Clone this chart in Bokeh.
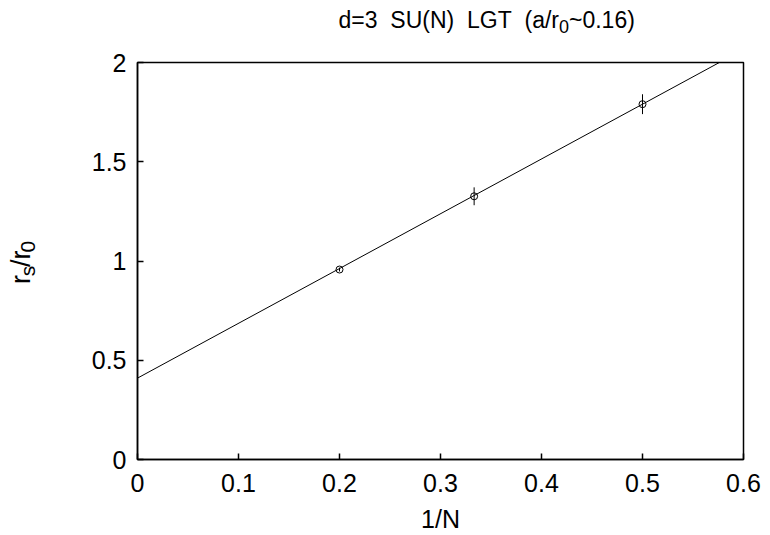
import math
from bokeh.plotting import figure
from bokeh.models import Slope, FixedTicker, Range1d, ColumnDataSource
from bokeh.layouts import column, row
from bokeh.core.properties import value
from bokeh.embed import file_html
from bokeh.resources import INLINE

# ---- data ----
inv_n = [0.2, 0.3333, 0.5]
rs_over_r0 = [0.957, 1.326, 1.79]
rs_err = [0.01, 0.045, 0.05]
fit_intercept = 0.41
fit_slope = 2.76
x_ticks = [0, 0.1, 0.2, 0.3, 0.4, 0.5, 0.6]
x_tick_labels = ["0", "0.1", "0.2", "0.3", "0.4", "0.5", "0.6"]
y_ticks = [0, 0.5, 1, 1.5, 2]
y_tick_labels = ["0", "0.5", "1", "1.5", "2"]
title_parts = ["d=3  SU(N)  LGT  (a/r", "0", "~0.16)"]
xlabel = "1/N"
ylabel_parts = ["r", "s", "/r", "0"]

FONT = "Liberation Sans"
FS = 25
TOTAL_W = 762
TITLE_H = 48
YLAB_W = 60
MAIN_W = TOTAL_W - YLAB_W
MAIN_H = 455
XLAB_H = 30


def blank(w, h):
    f = figure(width=w, height=h, output_backend="svg", toolbar_location=None,
               x_range=Range1d(0, w), y_range=Range1d(0, h),
               min_border=0, min_border_left=0, min_border_right=0,
               min_border_top=0, min_border_bottom=0)
    f.title = None
    f.axis.visible = False
    f.grid.visible = False
    f.outline_line_color = None
    f.background_fill_color = "white"
    f.border_fill_color = "white"
    return f


# ---- main plot ----
p = figure(width=MAIN_W, height=MAIN_H, output_backend="svg", toolbar_location=None,
           x_range=Range1d(0, 0.6), y_range=Range1d(0, 2),
           min_border_left=77, min_border_right=19,
           min_border_top=14, min_border_bottom=MAIN_H - 14 - 397)
p.title = None
p.xgrid.visible = False
p.ygrid.visible = False
p.outline_line_color = "black"
p.outline_line_width = 1.5
p.background_fill_color = "white"
p.border_fill_color = "white"

for ax, ticks, labels, so in ((p.xaxis[0], x_ticks, x_tick_labels, 14),
                              (p.yaxis[0], y_ticks, y_tick_labels, 11)):
    ax.ticker = FixedTicker(ticks=ticks)
    ax.major_label_overrides = {t: l for t, l in zip(ticks, labels)}
    ax.minor_tick_line_color = None
    ax.major_tick_in = 6
    ax.major_tick_out = 0
    ax.axis_line_width = 1.5
    ax.major_tick_line_width = 1.5
    ax.major_label_text_font = FONT
    ax.major_label_text_font_size = f"{FS}px"
    ax.major_label_text_color = "black"
    ax.major_label_standoff = so

p.add_layout(Slope(gradient=fit_slope, y_intercept=fit_intercept, line_color="black", line_width=1))

src = ColumnDataSource(dict(x=inv_n, y=rs_over_r0,
                            lo=[v - e for v, e in zip(rs_over_r0, rs_err)],
                            hi=[v + e for v, e in zip(rs_over_r0, rs_err)]))
p.segment(x0="x", y0="lo", x1="x", y1="hi", source=src, line_color="black", line_width=1)
p.scatter(x="x", y="y", source=src, size=7, marker="circle", fill_color=None,
          line_color="black", line_width=1)

# Arial/Helvetica advance widths (per em)
ADV = {' ': .278, 'd': .556, '=': .584, '3': .556, 'S': .667, 'U': .722, '(': .333,
       'N': .722, ')': .333, 'L': .556, 'G': .778, 'T': .611, 'a': .556, '/': .278,
       'r': .333, '0': .556, '~': .584, '.': .278, '1': .556, '6': .556, 's': .5}


def tw(s, size):
    return sum(ADV.get(c, .556) for c in s) * size


def put_words(fig, s, x0, y, size, **kw):
    """Place each word of s separately so multiple spaces are kept visually."""
    pos = 0
    for word in s.split(" "):
        if word:
            fig.text(x=[x0 + tw(s[:pos], size)], y=[y], text=[word], text_font=value(FONT),
                     text_font_size=f"{size}px", text_align="left",
                     text_baseline="alphabetic", text_color="black", **kw)
        pos += len(word) + 1
    return x0 + tw(s, size)


# ---- title ----
tfig = blank(TOTAL_W, TITLE_H)
TFS, TSUB = 23, 18
tx, ty = 338, 29
for i, part in enumerate(title_parts):
    sub = (i == 1)
    size = TSUB if sub else TFS
    tx = put_words(tfig, part, tx, ty - (7 if sub else 0), size)

# ---- y label ----
yfig = blank(YLAB_W, MAIN_H)
YFS, SFS = 27, 21
total = sum(tw(s, SFS if i % 2 else YFS) for i, s in enumerate(ylabel_parts))
lx, ly = 20, (MAIN_H - (278 - TITLE_H)) - total / 2
for i, part in enumerate(ylabel_parts):
    sub = (i % 2 == 1)
    size = SFS if sub else YFS
    yfig.text(x=[lx + (7 if sub else 0)], y=[ly], text=[part], angle=math.pi / 2,
              text_font=value(FONT), text_font_size=f"{size}px", text_align="left",
              text_baseline="alphabetic", text_color="black")
    ly += tw(part, size)

# ---- x label ----
xfig = blank(TOTAL_W, XLAB_H)
xfig.text(x=[440], y=[15], text=[xlabel], text_font=value(FONT), text_font_size=f"{FS}px",
          text_align="center", text_baseline="alphabetic", text_color="black")

layout = column(tfig, row(yfig, p, spacing=0), xfig, spacing=0)
open("out.html", "w").write(file_html(layout, INLINE))
